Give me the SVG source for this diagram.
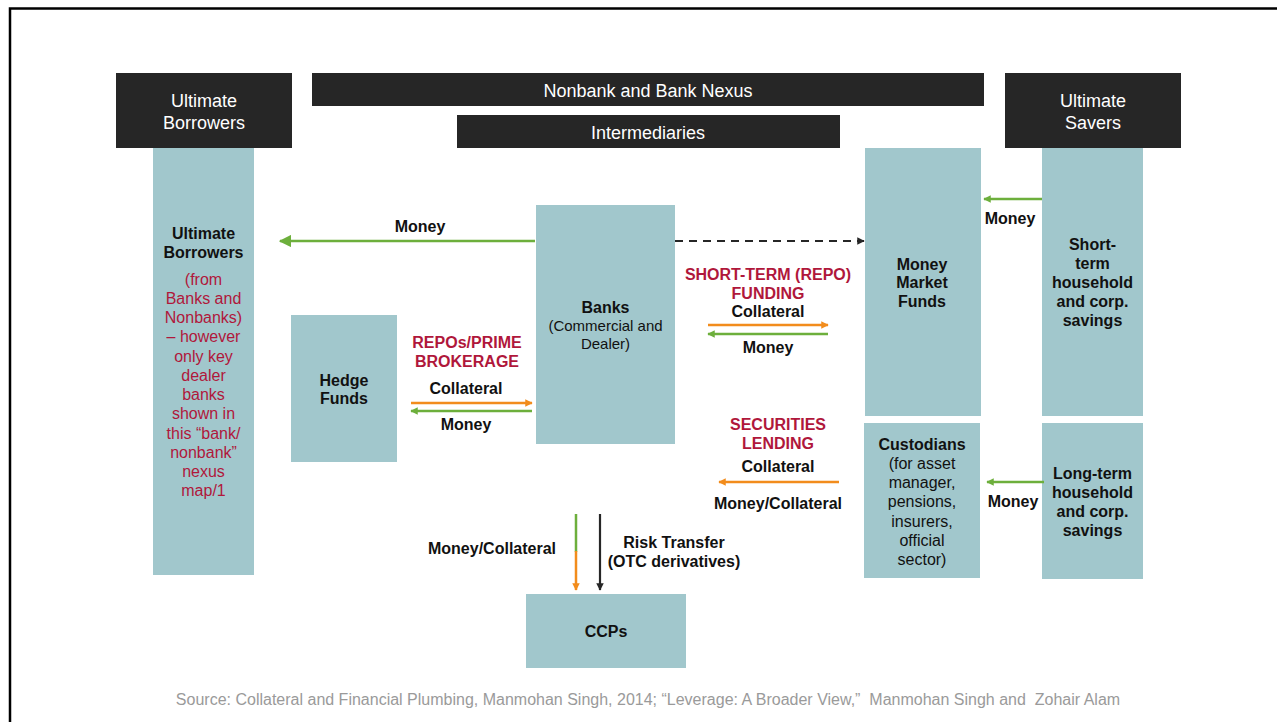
<svg xmlns="http://www.w3.org/2000/svg" width="1277" height="722" viewBox="0 0 1277 722">
  <style>
    .hdr { fill: #262626; }
    .box { fill: #A1C7CC; }
    .hdrtxt { font-family: "Liberation Sans", Arial, sans-serif; font-size: 18px; fill: #FFFFFF; text-anchor: middle; }
    .b { font-family: "Liberation Sans", Arial, sans-serif; font-size: 16px; font-weight: bold; fill: #111111; text-anchor: middle; }
    .r { font-family: "Liberation Sans", Arial, sans-serif; font-size: 16px; fill: #111111; text-anchor: middle; }
    .red { font-family: "Liberation Sans", Arial, sans-serif; font-size: 16px; font-weight: bold; fill: #B0173B; text-anchor: middle; }
    .redr { font-family: "Liberation Sans", Arial, sans-serif; font-size: 16px; fill: #B0173B; text-anchor: middle; }
    .src { font-family: "Liberation Sans", Arial, sans-serif; font-size: 16px; fill: #9A9A9A; text-anchor: middle; white-space: pre; }
    .g { stroke: #6DAF3C; stroke-width: 2.5; fill: none; }
    .o { stroke: #F28C1C; stroke-width: 2.5; fill: none; }
    .k { stroke: #262626; stroke-width: 2.2; fill: none; }
  </style>
  <defs>
    <marker id="ahG" viewBox="0 0 10 10" refX="9" refY="5" markerWidth="3" markerHeight="3" orient="auto" markerUnits="strokeWidth">
      <path d="M0,0 L10,5 L0,10 Z" fill="#6DAF3C"/>
    </marker>
    <marker id="ahGL" viewBox="0 0 10 10" refX="9" refY="5" markerWidth="5" markerHeight="5" orient="auto" markerUnits="strokeWidth">
      <path d="M0,0 L10,5 L0,10 Z" fill="#6DAF3C"/>
    </marker>
    <marker id="ahO" viewBox="0 0 10 10" refX="9" refY="5" markerWidth="3" markerHeight="3" orient="auto" markerUnits="strokeWidth">
      <path d="M0,0 L10,5 L0,10 Z" fill="#F28C1C"/>
    </marker>
    <marker id="ahK" viewBox="0 0 10 10" refX="9" refY="5" markerWidth="3.4" markerHeight="3.4" orient="auto" markerUnits="strokeWidth">
      <path d="M0,0 L10,5 L0,10 Z" fill="#262626"/>
    </marker>
  </defs>

  <rect width="1277" height="722" fill="#FFFFFF"/>
  <!-- slide frame -->
  <path d="M10,722 L10,8.5 L1277,8.5" fill="none" stroke="#000000" stroke-width="2.5"/>

  <!-- header bars -->
  <g id="hdr-borrowers">
    <rect class="hdr" x="116" y="73" width="176" height="75"/>
    <text class="hdrtxt" x="204" y="107">Ultimate</text>
    <text class="hdrtxt" x="204" y="129">Borrowers</text>
  </g>
  <g id="hdr-nexus">
    <rect class="hdr" x="312" y="73" width="672" height="33"/>
    <text class="hdrtxt" x="648" y="97">Nonbank and Bank Nexus</text>
  </g>
  <g id="hdr-intermediaries">
    <rect class="hdr" x="457" y="115" width="383" height="33"/>
    <text class="hdrtxt" x="648" y="139">Intermediaries</text>
  </g>
  <g id="hdr-savers">
    <rect class="hdr" x="1005" y="73" width="176" height="75"/>
    <text class="hdrtxt" x="1093" y="107">Ultimate</text>
    <text class="hdrtxt" x="1093" y="129">Savers</text>
  </g>

  <!-- nodes -->
  <g id="ultimate-borrowers">
    <rect class="box" x="153" y="148" width="101" height="427"/>
    <text class="b" x="203.5" y="239">Ultimate</text>
    <text class="b" x="203.5" y="258">Borrowers</text>
    <text class="redr" x="203.5" y="285">(from</text>
    <text class="redr" x="203.5" y="304">Banks and</text>
    <text class="redr" x="203.5" y="323">Nonbanks)</text>
    <text class="redr" x="203.5" y="342">– however</text>
    <text class="redr" x="203.5" y="362">only key</text>
    <text class="redr" x="203.5" y="381">dealer</text>
    <text class="redr" x="203.5" y="400">banks</text>
    <text class="redr" x="203.5" y="419">shown in</text>
    <text class="redr" x="203.5" y="439">this “bank/</text>
    <text class="redr" x="203.5" y="458">nonbank”</text>
    <text class="redr" x="203.5" y="477">nexus</text>
    <text class="redr" x="203.5" y="496">map/1</text>
  </g>
  <g id="hedge-funds">
    <rect class="box" x="291" y="315" width="106" height="147"/>
    <text class="b" x="344" y="386">Hedge</text>
    <text class="b" x="344" y="404">Funds</text>
  </g>
  <g id="banks">
    <rect class="box" x="536" y="205" width="139" height="239"/>
    <text class="b" x="605.5" y="313">Banks</text>
    <text class="r" x="605.5" y="331" style="font-size:15px">(Commercial and</text>
    <text class="r" x="605.5" y="349" style="font-size:15px">Dealer)</text>
  </g>
  <g id="money-market-funds">
    <rect class="box" x="865" y="148" width="116" height="268"/>
    <text class="b" x="922" y="270">Money</text>
    <text class="b" x="922" y="288">Market</text>
    <text class="b" x="922" y="307">Funds</text>
  </g>
  <g id="custodians">
    <rect class="box" x="864" y="423" width="116" height="155"/>
    <text class="b" x="922" y="450">Custodians</text>
    <text class="r" x="922" y="469">(for asset</text>
    <text class="r" x="922" y="488">manager,</text>
    <text class="r" x="922" y="507">pensions,</text>
    <text class="r" x="922" y="527">insurers,</text>
    <text class="r" x="922" y="546">official</text>
    <text class="r" x="922" y="565">sector)</text>
  </g>
  <g id="short-term-savings">
    <rect class="box" x="1042" y="148" width="101" height="268"/>
    <text class="b" x="1092.5" y="250">Short-</text>
    <text class="b" x="1092.5" y="269">term</text>
    <text class="b" x="1092.5" y="288">household</text>
    <text class="b" x="1092.5" y="307">and corp.</text>
    <text class="b" x="1092.5" y="326">savings</text>
  </g>
  <g id="long-term-savings">
    <rect class="box" x="1042" y="423" width="101" height="156"/>
    <text class="b" x="1092.5" y="479">Long-term</text>
    <text class="b" x="1092.5" y="498">household</text>
    <text class="b" x="1092.5" y="517">and corp.</text>
    <text class="b" x="1092.5" y="536">savings</text>
  </g>
  <g id="ccps">
    <rect class="box" x="526" y="594" width="160" height="74"/>
    <text class="b" x="606" y="637">CCPs</text>
  </g>

  <!-- connectors -->
  <g id="connectors">
    <!-- banks to ultimate borrowers -->
    <line class="g" x1="535" y1="241" x2="280" y2="241" marker-end="url(#ahGL)"/>
    <text class="b" x="420" y="232">Money</text>
    <!-- banks to money market funds -->
    <line class="k" x1="675" y1="241" x2="864" y2="241" stroke-dasharray="8,6" marker-end="url(#ahK)"/>
    <!-- hedge funds repo -->
    <text class="red" x="467" y="348">REPOs/PRIME</text>
    <text class="red" x="467" y="367">BROKERAGE</text>
    <text class="b" x="466" y="394">Collateral</text>
    <line class="o" x1="411" y1="403" x2="532" y2="403" marker-end="url(#ahO)"/>
    <line class="g" x1="532" y1="411" x2="411" y2="411" marker-end="url(#ahG)"/>
    <text class="b" x="466" y="430">Money</text>
    <!-- short-term repo funding -->
    <text class="red" x="768" y="280">SHORT-TERM (REPO)</text>
    <text class="red" x="768" y="299">FUNDING</text>
    <text class="b" x="768" y="317">Collateral</text>
    <line class="o" x1="708" y1="325" x2="828" y2="325" marker-end="url(#ahO)"/>
    <line class="g" x1="828" y1="334" x2="708" y2="334" marker-end="url(#ahG)"/>
    <text class="b" x="768" y="353">Money</text>
    <!-- securities lending -->
    <text class="red" x="778" y="430">SECURITIES</text>
    <text class="red" x="778" y="449">LENDING</text>
    <text class="b" x="778" y="472">Collateral</text>
    <line class="o" x1="839" y1="482" x2="719" y2="482" marker-end="url(#ahO)"/>
    <text class="b" x="778" y="509">Money/Collateral</text>
    <!-- savers to funds -->
    <line class="g" x1="1042" y1="199" x2="984" y2="199" marker-end="url(#ahG)"/>
    <text class="b" x="1010" y="224">Money</text>
    <line class="g" x1="1044" y1="482" x2="987" y2="482" marker-end="url(#ahG)"/>
    <text class="b" x="1013" y="507">Money</text>
    <!-- banks to CCPs -->
    <line class="g" x1="576" y1="514" x2="576" y2="552"/>
    <line class="o" x1="576" y1="551" x2="576" y2="590" marker-end="url(#ahO)"/>
    <line class="k" x1="600" y1="514" x2="600" y2="590" marker-end="url(#ahK)"/>
    <text class="b" x="492" y="554">Money/Collateral</text>
    <text class="b" x="674" y="548">Risk Transfer</text>
    <text class="b" x="674" y="567">(OTC derivatives)</text>
  </g>

  <text class="src" x="648" y="705" xml:space="preserve">Source: Collateral and Financial Plumbing, Manmohan Singh, 2014; “Leverage: A Broader View,”  Manmohan Singh and  Zohair Alam</text>
</svg>
